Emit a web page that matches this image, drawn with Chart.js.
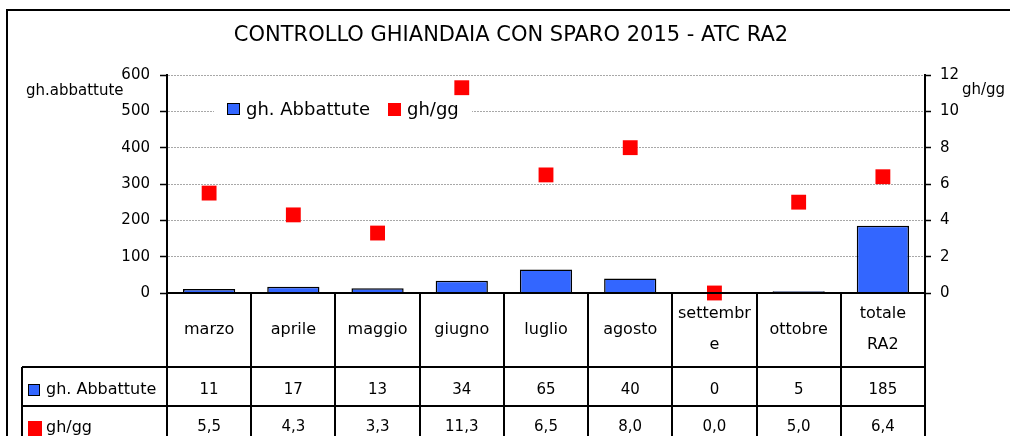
<!DOCTYPE html>
<html>
<head>
    <title>Controllo ghiandaia 2015</title>
    <script src="https://cdn.jsdelivr.net/npm/chart.js@4/dist/chart.umd.min.js"></script>
    <style>
        body { margin: 0; background: #fff; }
        canvas { display: block; }
    </style>
</head>
<body>
    <canvas id="chart" width="1010" height="436"></canvas>

    <script>
        // data
        const categories = ['marzo', 'aprile', 'maggio', 'giugno', 'luglio', 'agosto', ['settembr', 'e'], 'ottobre', ['totale', 'RA2']];
        const abbattute = [11, 17, 13, 34, 65, 40, 0, 5, 185];
        const ghPerGg = [5.5, 4.3, 3.3, 11.3, 6.5, 8.0, 0.0, 5.0, 6.4];
        const leftTicks = [0, 100, 200, 300, 400, 500, 600];
        const rightTicks = [0, 2, 4, 6, 8, 10, 12];

        const titleText = 'CONTROLLO GHIANDAIA CON SPARO 2015 - ATC RA2';
        const barName = 'gh. Abbattute';
        const pointName = 'gh/gg';
        const blue = '#3366ff';
        const red = '#ff0000';
        const font = 'DejaVu Sans';

        Chart.defaults.font.family = font;
        Chart.defaults.color = '#000';

        const fmt = v => v.toFixed(1).replace('.', ',');

        // title, axis captions, legend and data table
        const extras = {
            id: 'extras',
            beforeDatasetsDraw(chart) {
                const c = chart.ctx;
                c.save();
                // legend box inside the plot
                c.fillStyle = '#fff';
                c.fillRect(214, 98, 258, 26);
                c.fillStyle = blue;
                c.fillRect(227, 103, 13, 12);
                c.strokeStyle = '#000';
                c.lineWidth = 1;
                c.strokeRect(227.5, 103.5, 12, 11);
                c.fillStyle = red;
                c.fillRect(388, 103, 13, 13);
                c.fillStyle = '#000';
                c.font = '18px ' + font;
                c.textBaseline = 'middle';
                c.textAlign = 'left';
                c.fillText(barName, 246, 110);
                c.fillText(pointName, 407, 110);
                c.restore();
            },
            afterDraw(chart) {
                const c = chart.ctx;
                const x = chart.scales.x;
                const area = chart.chartArea;
                const step = (area.right - area.left) / categories.length;
                c.save();
                c.strokeStyle = '#000';
                c.fillStyle = '#000';

                // outer frame
                c.lineWidth = 2;
                c.beginPath();
                c.moveTo(7, 436); c.lineTo(7, 10); c.lineTo(1010, 10);
                c.stroke();

                // title
                c.font = '21px ' + font;
                c.textAlign = 'center';
                c.textBaseline = 'middle';
                c.fillText(titleText, 511, 36);

                // axis captions
                c.font = '15px ' + font;
                c.textAlign = 'left';
                c.fillText('gh.abbattute', 26, 91);
                c.fillText('gh/gg', 962, 90);

                // table grid
                const rowTop = area.bottom, row1 = 367, row2 = 406, rowEnd = 446;
                c.lineWidth = 2;
                c.beginPath();
                c.moveTo(area.left, rowTop); c.lineTo(area.right, rowTop);
                c.moveTo(22, row1); c.lineTo(area.right, row1);
                c.moveTo(22, row2); c.lineTo(area.right, row2);
                c.moveTo(22, row1); c.lineTo(22, rowEnd);
                for (let i = 0; i <= categories.length; i++) {
                    const px = Math.round(area.left + i * step);
                    c.moveTo(px, rowTop); c.lineTo(px, rowEnd);
                }
                c.stroke();

                // table text
                c.textAlign = 'center';
                categories.forEach((lab, i) => {
                    const cx = x.getPixelForValue(i);
                    c.font = '16px ' + font;
                    if (Array.isArray(lab)) {
                        c.fillText(lab[0], cx, 314);
                        c.fillText(lab[1], cx, 345);
                    } else {
                        c.fillText(lab, cx, 330);
                    }
                    c.font = '15px ' + font;
                    c.fillText(String(abbattute[i]), cx, 390);
                    c.fillText(fmt(ghPerGg[i]), cx, 427);
                });

                // row headers with legend keys
                c.textAlign = 'left';
                c.font = '16px ' + font;
                c.fillStyle = blue;
                c.fillRect(28, 384, 12, 12);
                c.lineWidth = 1;
                c.strokeRect(28.5, 384.5, 11, 11);
                c.fillStyle = red;
                c.fillRect(28, 421, 14, 15);
                c.fillStyle = '#000';
                c.fillText(barName, 46, 390);
                c.fillText(pointName, 46, 428);
                c.restore();
            }
        };

        new Chart(document.getElementById('chart'), {
            data: {
                labels: categories,
                datasets: [{
                    type: 'line',
                    label: pointName,
                    data: ghPerGg,
                    yAxisID: 'y1',
                    showLine: false,
                    pointStyle: 'rect',
                    pointRadius: 10.5,
                    pointBackgroundColor: red,
                    pointBorderWidth: 0,
                    clip: false,
                    order: 0
                }, {
                    type: 'bar',
                    label: barName,
                    data: abbattute,
                    yAxisID: 'y',
                    backgroundColor: blue,
                    borderColor: '#000',
                    borderWidth: 1.5,
                    categoryPercentage: 1,
                    barPercentage: 0.62,
                    order: 1
                }]
            },
            options: {
                responsive: false,
                animation: false,
                devicePixelRatio: 1,
                layout: { padding: { top: 75, bottom: 143, left: 0, right: 0 } },
                plugins: {
                    legend: { display: false },
                    title: { display: false },
                    tooltip: { enabled: false }
                },
                scales: {
                    x: { display: false },
                    y: {
                        position: 'left',
                        min: 0,
                        max: 600,
                        afterFit: s => { s.width = 167; },
                        afterBuildTicks: s => { s.ticks = leftTicks.map(v => ({ value: v })); },
                        ticks: { font: { size: 15 }, padding: 10 },
                        grid: {
                            color: '#a8a8a8',
                            lineWidth: 1,
                            tickColor: '#000',
                            tickLength: 7,
                            tickWidth: 1.5
                        },
                        border: { color: '#000', width: 2, dash: [2, 1] }
                    },
                    y1: {
                        position: 'right',
                        min: 0,
                        max: 12,
                        afterFit: s => { s.width = 85; },
                        afterBuildTicks: s => { s.ticks = rightTicks.map(v => ({ value: v })); },
                        ticks: { font: { size: 15 }, padding: 9 },
                        grid: {
                            drawOnChartArea: false,
                            tickColor: '#000',
                            tickLength: 6,
                            tickWidth: 1.5
                        },
                        border: { color: '#000', width: 2 }
                    }
                }
            },
            plugins: [extras]
        });
    </script>
</body>
</html>
